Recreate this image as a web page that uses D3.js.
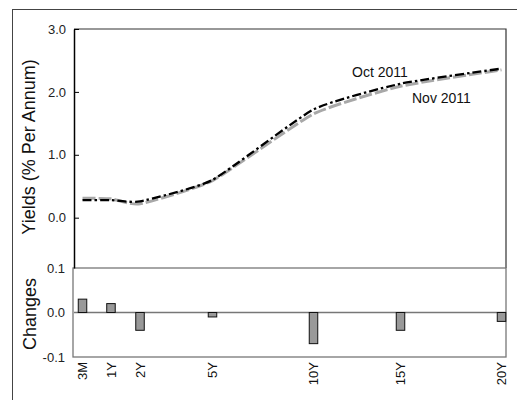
<!DOCTYPE html>
<html>
<head>
<meta charset="UTF-8">
<style>
  body { margin: 0; background: #fff; }
  svg { display: block; font-family: "Liberation Sans", Arial, sans-serif; }
</style>
</head>
<body>
<svg width="517" height="400"></svg>
<script src="https://cdnjs.cloudflare.com/ajax/libs/d3/7.8.5/d3.min.js"></script>
<script>
// data
let tenors = ["3M", "1Y", "2Y", "5Y", "10Y", "15Y", "20Y"];
let years = [0.25, 1, 2, 5, 10, 15, 20];
let oct2011 = [0.28, 0.28, 0.26, 0.60, 1.72, 2.13, 2.37];
let nov2011 = [0.31, 0.30, 0.22, 0.59, 1.65, 2.09, 2.35];
let changes = [0.03, 0.02, -0.04, -0.01, -0.07, -0.04, -0.02];
let yieldTicks = [0, 1, 2, 3];
let changeTicks = [-0.1, 0, 0.1];

let svg = d3.select("svg");

let left = 74, right = 506;
let topY = 29, midY = 268, botY = 357;
let w = right - left;

// the original axis is not evenly spaced, so use a piecewise scale
let axisStops = [0.0197, 0.0856, 0.1528, 0.3206, 0.5544, 0.7558, 0.9896];
let x = d3.scaleLinear()
    .domain(years)
    .range(axisStops.map(f => left + f * w));

let yTop = d3.scaleLinear().domain([-0.8, 3.0]).range([midY, topY]);
let yBot = d3.scaleLinear().domain([-0.1, 0.1]).range([botY, midY]);

let fmt = d => d3.format(".1f")(d).replace("\u2212", "-");

// outer frame
svg.append("rect")
    .attr("x", 12.5).attr("y", 9.5)
    .attr("width", 600).attr("height", 500)
    .attr("fill", "none").attr("stroke", "#444").attr("stroke-width", 1);

// top panel frame (top + right)
svg.append("path")
    .attr("d", "M" + left + "," + topY + "H" + right + "V" + midY)
    .attr("fill", "none").attr("stroke", "#333").attr("stroke-width", 1.2);

// bottom panel box
svg.append("rect")
    .attr("x", left - 1).attr("y", midY)
    .attr("width", right - left + 1).attr("height", botY - midY)
    .attr("fill", "none").attr("stroke", "#777").attr("stroke-width", 1.3);

// zero line of changes
svg.append("line")
    .attr("x1", left).attr("x2", right)
    .attr("y1", yBot(0)).attr("y2", yBot(0))
    .attr("stroke", "#777").attr("stroke-width", 1.3);

// top y axis
let gTop = svg.append("g")
    .attr("transform", "translate(" + left + ",0)")
    .call(d3.axisLeft(yTop).tickValues(yieldTicks).tickFormat(fmt)
        .tickSizeInner(-5).tickSizeOuter(0).tickPadding(8));
gTop.select(".domain").attr("stroke", "#000").attr("stroke-width", 1.5);
gTop.selectAll("text").attr("font-size", 13).attr("font-family", "Liberation Sans, Arial, sans-serif").attr("fill", "#222");

// bottom y axis
let gBot = svg.append("g")
    .attr("transform", "translate(" + (left - 1) + ",0)")
    .call(d3.axisLeft(yBot).tickValues(changeTicks).tickFormat(fmt)
        .tickSize(0).tickPadding(8));
gBot.select(".domain").remove();
gBot.selectAll("text").attr("font-size", 13).attr("font-family", "Liberation Sans, Arial, sans-serif").attr("fill", "#222");

// lines
let rows = years.map((t, i) => ({ t: t, oct: oct2011[i], nov: nov2011[i], ch: changes[i], tenor: tenors[i] }));

let lineNov = d3.line().x(d => x(d.t)).y(d => yTop(d.nov)).curve(d3.curveCardinal.tension(0.5));
let lineOct = d3.line().x(d => x(d.t)).y(d => yTop(d.oct)).curve(d3.curveCardinal.tension(0.5));

svg.append("path")
    .datum(rows)
    .attr("d", lineNov)
    .attr("fill", "none")
    .attr("stroke", "#a8a8a8")
    .attr("stroke-width", 3)
    .attr("stroke-dasharray", "13,3");

svg.append("path")
    .datum(rows)
    .attr("d", lineOct)
    .attr("fill", "none")
    .attr("stroke", "#000")
    .attr("stroke-width", 2.3)
    .attr("stroke-dasharray", "9,3,2.5,3");

svg.append("text").attr("x", 352).attr("y", 77)
    .attr("font-size", 14).attr("fill", "#111").text("Oct 2011");
svg.append("text").attr("x", 412).attr("y", 103)
    .attr("font-size", 14).attr("fill", "#111").text("Nov 2011");

// change bars
let bw = 8.5;
svg.append("g")
    .selectAll("rect")
    .data(rows)
    .enter()
    .append("rect")
    .attr("x", d => x(d.t) - bw / 2)
    .attr("y", d => yBot(Math.max(0, d.ch)))
    .attr("width", bw)
    .attr("height", d => Math.abs(yBot(d.ch) - yBot(0)))
    .attr("fill", "#999")
    .attr("stroke", "#111")
    .attr("stroke-width", 1);

// x tick labels, rotated
svg.append("g")
    .selectAll("text")
    .data(rows)
    .enter()
    .append("text")
    .attr("transform", d => "translate(" + x(d.t) + "," + (botY + 5) + ") rotate(-90)")
    .attr("text-anchor", "end")
    .attr("dy", "0.35em")
    .attr("font-size", 13)
    .attr("fill", "#111")
    .text(d => d.tenor);

// axis titles
svg.append("text")
    .attr("transform", "translate(35,147) rotate(-90)")
    .attr("text-anchor", "middle")
    .attr("font-size", 18).attr("fill", "#111")
    .text("Yields (% Per Annum)");

svg.append("text")
    .attr("transform", "translate(36,314) rotate(-90)")
    .attr("text-anchor", "middle")
    .attr("font-size", 18).attr("fill", "#111")
    .text("Changes");
</script>
</body>
</html>
